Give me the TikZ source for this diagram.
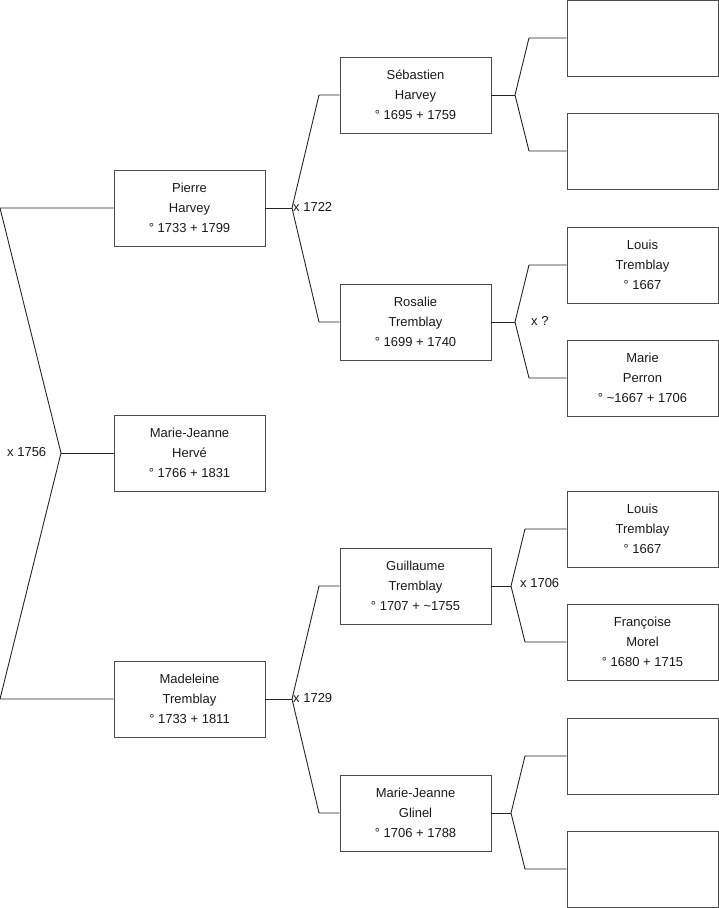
\documentclass[tikz,border=0pt]{standalone}
\usepackage{fontspec}
\setmainfont{Liberation Sans}
\begin{document}
\begin{tikzpicture}[x=1pt,y=-1pt,
  person/.style={draw=black!70, line width=0.9pt, minimum width=151pt, minimum height=76pt,
    inner sep=0pt, align=center, font=\fontsize{13}{20}\selectfont, text=black!90},
  wire/.style={draw=black!85, line width=0.9pt, line join=miter},
  mlabel/.style={anchor=west, inner sep=0pt, font=\fontsize{13}{15}\selectfont, text=black!90}]
\useasboundingbox (0,0) rectangle (719,908);
% generation 1
\node[person] (p1) at (189.5,208) {Pierre\\Harvey\\° 1733 + 1799};
\node[person] (p2) at (189.5,453) {Marie-Jeanne\\Hervé\\° 1766 + 1831};
\node[person] (p3) at (189.5,699) {Madeleine\\Tremblay\\° 1733 + 1811};
% generation 2
\node[person] (g1) at (415.5,95) {Sébastien\\Harvey\\° 1695 + 1759};
\node[person] (g2) at (415.5,322) {Rosalie\\Tremblay\\° 1699 + 1740};
\node[person] (g3) at (415.5,586) {Guillaume\\Tremblay\\° 1707 + \textasciitilde 1755};
\node[person] (g4) at (415.5,813) {Marie-Jeanne\\Glinel\\° 1706 + 1788};
% generation 3
\node[person] (r1) at (642.5,38) {};
\node[person] (r2) at (642.5,151) {};
\node[person] (r3) at (642.5,265) {Louis\\Tremblay\\° 1667};
\node[person] (r4) at (642.5,378) {Marie\\Perron\\° \textasciitilde 1667 + 1706};
\node[person] (r5) at (642.5,529) {Louis\\Tremblay\\° 1667};
\node[person] (r6) at (642.5,642) {Françoise\\Morel\\° 1680 + 1715};
\node[person] (r7) at (642.5,756) {};
\node[person] (r8) at (642.5,869) {};
% junction points
\coordinate (L1) at (0,208);
\coordinate (L2) at (0,699);
\coordinate (J0) at (61,453);
\coordinate (J1) at (292,208);
\coordinate (J1a) at (319,95);
\coordinate (J1b) at (319,322);
\coordinate (J3) at (292,699);
\coordinate (J3a) at (319,586);
\coordinate (J3b) at (319,813);
\coordinate (K1) at (515,95);
\coordinate (K1a) at (529,38);
\coordinate (K1b) at (529,151);
\coordinate (K2) at (515,322);
\coordinate (K2a) at (529,265);
\coordinate (K2b) at (529,378);
\coordinate (K3) at (511,586);
\coordinate (K3a) at (525,529);
\coordinate (K3b) at (525,642);
\coordinate (K4) at (511,813);
\coordinate (K4a) at (525,756);
\coordinate (K4b) at (525,869);
% connectors
\draw[wire] (p1.west) -- (L1) -- (J0) -- (L2) -- (p3.west);
\draw[wire] (J0) -- (p2.west);
\draw[wire] (p1.east) -- (J1);
\draw[wire] (g1.west) -- (J1a) -- (J1) -- (J1b) -- (g2.west);
\draw[wire] (p3.east) -- (J3);
\draw[wire] (g3.west) -- (J3a) -- (J3) -- (J3b) -- (g4.west);
\draw[wire] (g1.east) -- (K1);
\draw[wire] (r1.west) -- (K1a) -- (K1) -- (K1b) -- (r2.west);
\draw[wire] (g2.east) -- (K2);
\draw[wire] (r3.west) -- (K2a) -- (K2) -- (K2b) -- (r4.west);
\draw[wire] (g3.east) -- (K3);
\draw[wire] (r5.west) -- (K3a) -- (K3) -- (K3b) -- (r6.west);
\draw[wire] (g4.east) -- (K4);
\draw[wire] (r7.west) -- (K4a) -- (K4) -- (K4b) -- (r8.west);
% marriage labels
\node[mlabel] (m0) at (7,452) {x 1756};
\node[mlabel] (m1) at (293,207) {x 1722};
\node[mlabel] (m3) at (293,698) {x 1729};
\node[mlabel] (m2) at (531,321) {x ?};
\node[mlabel] (m4) at (520,583) {x 1706};
\end{tikzpicture}
\end{document}
